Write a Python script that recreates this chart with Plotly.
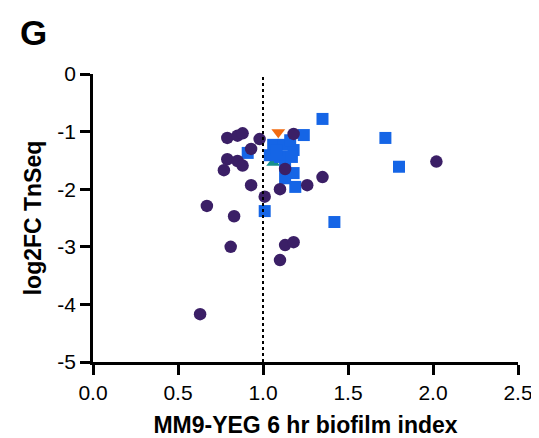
import plotly.graph_objects as go

# Data
circle_x = [0.79, 0.85, 0.88, 0.98, 0.93, 0.79, 0.85, 0.88, 0.77, 1.18, 1.13, 1.35,
            1.26, 1.10, 0.93, 1.01, 0.67, 0.83, 0.81, 1.13, 1.18, 1.10, 2.02, 0.63]
circle_y = [-1.11, -1.07, -1.03, -1.13, -1.30, -1.48, -1.51, -1.59, -1.67, -1.04, -1.65, -1.79,
            -1.93, -2.00, -1.93, -2.13, -2.29, -2.47, -3.00, -2.97, -2.92, -3.23, -1.52, -4.17]

square_x = [1.35, 1.24, 0.91, 1.72, 1.80, 1.42, 1.01, 1.19, 1.18, 1.13,
            1.06, 1.12, 1.18, 1.04, 1.10, 1.17, 1.13, 1.08, 1.16]
square_y = [-0.78, -1.06, -1.37, -1.11, -1.61, -2.57, -2.38, -1.96, -1.72, -1.81,
            -1.23, -1.23, -1.32, -1.41, -1.44, -1.44, -1.61, -1.32, -1.15]

tri_up_x = [1.06]
tri_up_y = [-1.54]
tri_down_x = [1.09]
tri_down_y = [-1.01]

x_ticks = [0.0, 0.5, 1.0, 1.5, 2.0, 2.5]
x_tick_labels = ["0.0", "0.5", "1.0", "1.5", "2.0", "2.5"]
y_ticks = [0, -1, -2, -3, -4, -5]
y_tick_labels = ["0", "-1", "-2", "-3", "-4", "-5"]
threshold_x = 1.0

fig = go.Figure()
fig.add_trace(go.Scatter(x=tri_up_x, y=tri_up_y, mode="markers",
                         marker=dict(symbol="triangle-up", size=12, color="#16908c"),
                         showlegend=False))
fig.add_trace(go.Scatter(x=square_x, y=square_y, mode="markers",
                         marker=dict(symbol="square", size=12, color="#1565e6"),
                         showlegend=False))
fig.add_trace(go.Scatter(x=tri_down_x, y=tri_down_y, mode="markers",
                         marker=dict(symbol="triangle-down", size=12, color="#f26b10"),
                         showlegend=False))
fig.add_trace(go.Scatter(x=circle_x, y=circle_y, mode="markers",
                         marker=dict(symbol="circle", size=12.5, color="#3b1f66"),
                         showlegend=False))

fig.add_shape(type="line", x0=threshold_x, x1=threshold_x, y0=0, y1=1, yref="paper",
              line=dict(color="black", width=2, dash="dot"))

FAM = "Liberation Sans, Arial, sans-serif"
axis_font = dict(family=FAM, size=21, color="black")
title_font = dict(family=FAM, size=23, color="black")

# page body has an 8px margin, so the figure is offset by 8px in the screenshot
fig.update_layout(
    width=531, height=430,
    margin=dict(l=85, r=21, t=66, b=76, autoexpand=False),
    plot_bgcolor="white", paper_bgcolor="white",
    xaxis=dict(range=[0, 2.5], tickvals=x_ticks, ticktext=x_tick_labels,
               showgrid=False, zeroline=False, showline=True, linecolor="black", linewidth=2.5,
               ticks="outside", ticklen=10, tickwidth=2.5, tickcolor="black",
               tickfont=axis_font, automargin=False,
               title=dict(text="<b>MM9-YEG 6 hr biofilm index</b>", font=title_font, standoff=14)),
    yaxis=dict(range=[-5, 0], tickvals=y_ticks, ticktext=y_tick_labels,
               showgrid=False, zeroline=False, showline=True, linecolor="black", linewidth=2.5,
               ticks="outside", ticklen=10, tickwidth=2.5, tickcolor="black",
               tickfont=axis_font, automargin=False,
               title=dict(text="<b>log2FC TnSeq</b>", font=title_font, standoff=10)),
    annotations=[dict(text="<b>G</b>", x=(10 - 85) / 425, y=1 + (66 - 25) / 288,
                      xref="paper", yref="paper", xanchor="left", yanchor="middle",
                      showarrow=False, font=dict(family=FAM, size=35, color="black"))],
)

fig.write_html("out.html")
